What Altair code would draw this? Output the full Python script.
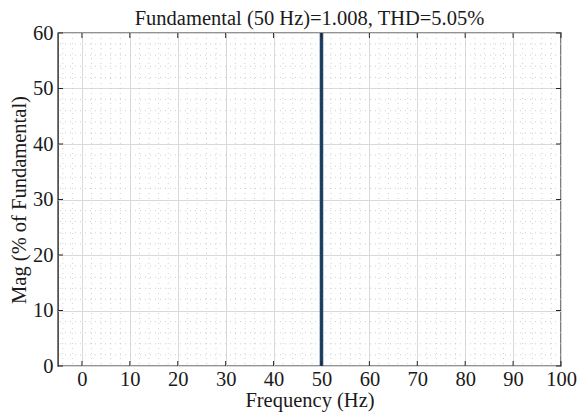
import altair as alt
import pandas as pd

# Data
freq = [50]          # Hz
mag = [100.0]        # % of fundamental (clipped by the 0-60 axis)
x_major = list(range(0, 101, 10))
y_major = list(range(0, 61, 10))
x_minor = [v for v in range(-4, 101, 2) if v % 10 != 0]
y_minor = [v for v in range(2, 60, 2) if v % 10 != 0]

W, H = 503, 333
FONT = "Liberation Serif"
FS = 20.5

xs = alt.Scale(domain=[-5, 100], nice=False, zero=False, padding=0)
ys = alt.Scale(domain=[0, 60], nice=False, zero=False, padding=0)

XAX = alt.Axis(values=x_major, title="Frequency (Hz)", grid=True,
               gridColor="#d9d9d9", gridWidth=1, ticks=False,
               domain=False, labelFlush=False, labelPadding=3, titlePadding=1)
YAX = alt.Axis(values=y_major, title="Mag (% of Fundamental)", grid=True,
               gridColor="#d9d9d9", gridWidth=1, ticks=False,
               domain=False, labelPadding=5, titlePadding=3)

bars_df = pd.DataFrame({"freq": freq, "mag": mag})
xmin_df = pd.DataFrame({"v": x_minor})
ymin_df = pd.DataFrame({"v": y_minor})
xmaj_df = pd.DataFrame({"v": x_major})
ymaj_df = pd.DataFrame({"v": y_major})

minor_style = dict(color="#c4c4c4", strokeWidth=0.8, strokeDash=[1, 4])

minor_x = alt.Chart(xmin_df).mark_rule(**minor_style).encode(
    x=alt.X("v:Q", scale=xs, axis=XAX)
)
minor_y = alt.Chart(ymin_df).mark_rule(**minor_style).encode(
    y=alt.Y("v:Q", scale=ys, axis=YAX)
)

bar = alt.Chart(bars_df).mark_bar(size=3, color="#1c3855", stroke="#2a5a86",
                                  strokeWidth=0.6, clip=True).encode(
    x=alt.X("freq:Q", scale=xs, axis=XAX),
    y=alt.Y("mag:Q", scale=ys, axis=YAX),
    y2=alt.datum(0),
)

tick_style = dict(color="#262626", strokeWidth=1)
tb = alt.Chart(xmaj_df).mark_rule(**tick_style).encode(
    x=alt.X("v:Q", scale=xs, axis=XAX), y=alt.value(H), y2=alt.value(H - 5))
tt = alt.Chart(xmaj_df).mark_rule(**tick_style).encode(
    x=alt.X("v:Q", scale=xs, axis=XAX), y=alt.value(0), y2=alt.value(5))
tl = alt.Chart(ymaj_df).mark_rule(**tick_style).encode(
    y=alt.Y("v:Q", scale=ys, axis=YAX), x=alt.value(0), x2=alt.value(5))
tr = alt.Chart(ymaj_df).mark_rule(**tick_style).encode(
    y=alt.Y("v:Q", scale=ys, axis=YAX), x=alt.value(W), x2=alt.value(W - 5))

chart = alt.layer(minor_x, minor_y, bar, tb, tt, tl, tr).properties(
    width=W, height=H,
    background="white",
    title=alt.TitleParams("Fundamental (50 Hz)=1.008, THD=5.05%", font=FONT,
                          fontSize=FS, fontWeight="normal", color="#1a1a1a",
                          offset=-6, anchor="middle"),
    autosize=alt.AutoSizeParams(type="none"),
    padding={"left": 58, "top": 33, "right": 16, "bottom": 47},
).configure_axis(
    labelFont=FONT, titleFont=FONT, labelFontSize=FS, titleFontSize=FS,
    labelColor="#1a1a1a", titleColor="#1a1a1a", titleFontWeight="normal",
).configure_view(
    stroke="#262626", strokeWidth=1.4
)

chart.save("out.html", embed_options={"renderer": "svg", "actions": False})
